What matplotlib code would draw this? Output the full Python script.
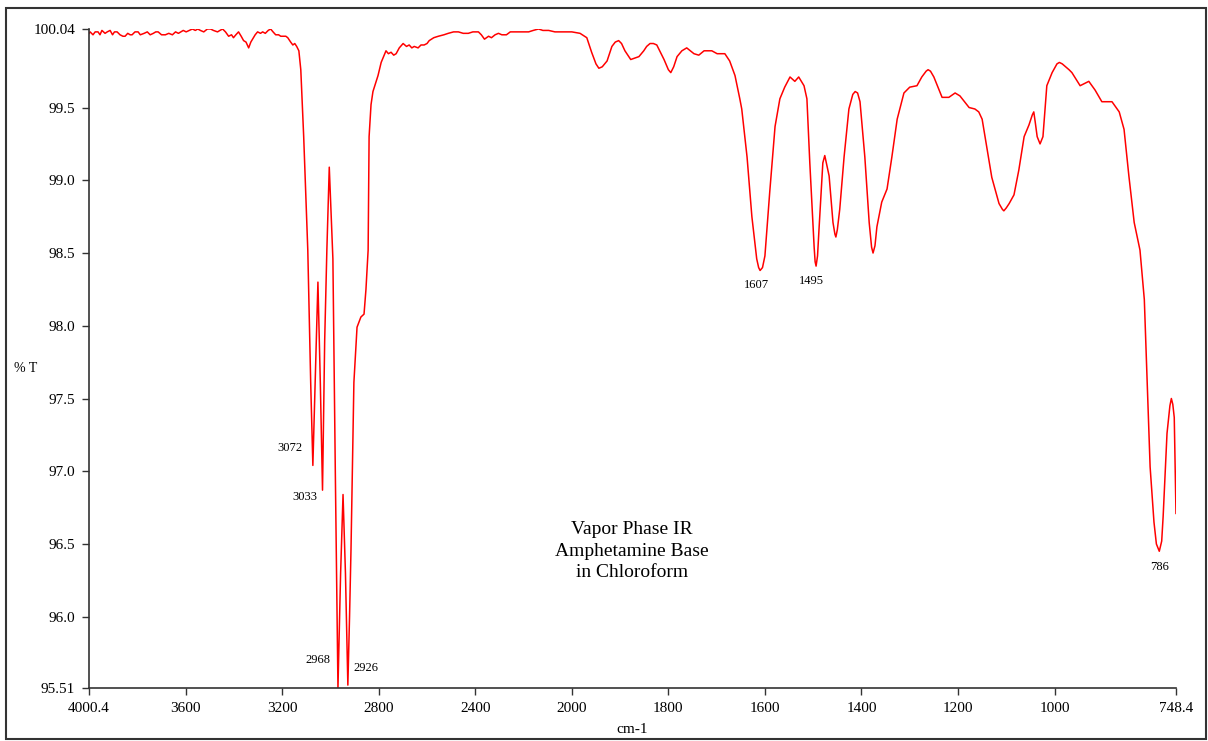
import numpy as np
import matplotlib
matplotlib.use("Agg")
import matplotlib.pyplot as plt
from matplotlib.patches import Rectangle

plt.rcParams['font.family'] = ['Liberation Serif', 'DejaVu Serif']

# spectrum: wavenumber (cm-1) and %T
wavenumber = [
    4000.4, 3996, 3984, 3975, 3963, 3955, 3947, 3934, 3925, 3913, 3903, 3895,
    3884, 3872, 3860, 3851, 3840, 3830, 3822, 3810, 3797, 3788, 3772, 3759,
    3747, 3734, 3724, 3714, 3700, 3684, 3670, 3655, 3642, 3630, 3620, 3610,
    3598, 3585, 3572, 3560, 3550, 3539, 3525, 3510, 3497, 3485, 3468, 3458,
    3447, 3435, 3422, 3410, 3402, 3392, 3381, 3370, 3360, 3350, 3339, 3330,
    3323, 3312, 3302, 3290, 3281, 3270, 3258, 3248, 3238, 3227, 3215, 3206,
    3198, 3185, 3177, 3165, 3156, 3148, 3140, 3131,
    3123, 3111, 3094, 3082, 3073, 3062, 3052, 3042, 3033, 3024, 3015, 3005,
    2990, 2980, 2969, 2958, 2948, 2938, 2928, 2921, 2915, 2903, 2890, 2874,
    2861, 2853, 2844, 2840, 2832, 2824, 2803, 2790, 2770, 2760, 2749, 2738, 2728,
    2715, 2699, 2685, 2674, 2663, 2653, 2637, 2625, 2612, 2600, 2591, 2572,
    2553, 2530, 2512, 2490, 2470, 2450, 2429, 2410, 2387, 2375, 2362, 2345,
    2333, 2318, 2304, 2290, 2271, 2255, 2237, 2210, 2179, 2160, 2138, 2120,
    2096, 2070, 2042, 2020, 2000,
    1983, 1969, 1959, 1950, 1944, 1937, 1927, 1917, 1910, 1903, 1897, 1890, 1878,
    1861, 1851, 1845, 1838, 1831, 1824, 1809, 1800, 1795, 1789, 1782, 1772, 1762,
    1747, 1737, 1726, 1710, 1699, 1683, 1673, 1662, 1652, 1648, 1637, 1627, 1617,
    1613, 1610, 1605, 1600, 1590, 1579, 1569, 1559, 1548, 1538, 1530, 1519, 1513,
    1507, 1498, 1496, 1494, 1491, 1488, 1480, 1476, 1467, 1459, 1455, 1453, 1450,
    1445, 1436, 1426, 1418, 1413, 1408, 1403, 1393, 1384, 1379, 1376, 1372, 1368,
    1358, 1347, 1337, 1326, 1312, 1300, 1285, 1275, 1266, 1262, 1257, 1250, 1233,
    1219, 1206, 1196, 1177, 1165, 1157, 1150, 1144, 1136, 1130, 1115, 1108, 1105,
    1100, 1094, 1084, 1074, 1063, 1053, 1046, 1043, 1040, 1036, 1030, 1024, 1016,
    1005, 995, 990, 984, 970, 964, 947, 929, 916, 902, 881, 866, 856, 846, 835,
    823, 814, 808, 802, 794, 789, 783, 778, 775, 767, 761, 758, 755, 752, 748.4,
]
transmittance = [
    100.01, 100.02, 100.00, 100.02, 100.02, 100.00, 100.03, 100.01, 100.02, 100.03, 100.00, 100.02,
    100.02, 100.00, 99.99, 99.99, 100.01, 100.00, 100.00, 100.02, 100.02, 100.00, 100.01, 100.02,
    100.00, 100.01, 100.02, 100.02, 100.00, 100.00, 100.01, 100.00, 100.02, 100.01, 100.02, 100.03,
    100.02, 100.03, 100.04, 100.03, 100.04, 100.03, 100.02, 100.04, 100.04, 100.03, 100.02, 100.03,
    100.04, 100.02, 99.99, 100.00, 99.98, 100.00, 100.02, 99.99, 99.96, 99.95, 99.91, 99.95,
    99.97, 100.00, 100.02, 100.01, 100.02, 100.01, 100.03, 100.04, 100.02, 100.00, 100.00, 99.99,
    99.99, 99.99, 99.98, 99.95, 99.93, 99.94, 99.92, 99.89,
    99.76, 99.30, 98.52, 97.61, 97.04, 97.70, 98.30, 97.60, 96.87, 97.90, 98.52, 99.09,
    98.46, 97.00, 95.51, 96.30, 96.84, 96.30, 95.53, 96.00, 96.46, 97.61, 97.99, 98.06,
    98.08, 98.25, 98.52, 99.30, 99.52, 99.61, 99.72, 99.81, 99.89, 99.87, 99.88, 99.86, 99.87,
    99.91, 99.94, 99.92, 99.93, 99.91, 99.92, 99.91, 99.93, 99.93, 99.94, 99.96, 99.98,
    99.99, 100.00, 100.01, 100.02, 100.02, 100.01, 100.01, 100.02, 100.02, 100.00, 99.97, 99.99,
    99.98, 100.00, 100.01, 100.00, 100.00, 100.02, 100.02, 100.02, 100.02, 100.03, 100.04, 100.03,
    100.03, 100.02, 100.02, 100.02, 100.02,
    100.01, 99.98, 99.88, 99.80, 99.77, 99.78, 99.82, 99.92, 99.95, 99.96, 99.94, 99.89, 99.83,
    99.85, 99.89, 99.92, 99.94, 99.94, 99.93, 99.83, 99.76, 99.74, 99.78, 99.85, 99.89, 99.91,
    99.87, 99.86, 99.89, 99.89, 99.87, 99.87, 99.82, 99.72, 99.56, 99.49, 99.16, 98.75, 98.46,
    98.40, 98.38, 98.40, 98.48, 98.92, 99.37, 99.56, 99.64, 99.71, 99.68, 99.71, 99.65, 99.56,
    99.12, 98.54, 98.44, 98.41, 98.48, 98.66, 99.12, 99.17, 99.03, 98.71, 98.63, 98.61, 98.66,
    98.80, 99.16, 99.49, 99.59, 99.61, 99.60, 99.54, 99.16, 98.71, 98.54, 98.50, 98.55, 98.68,
    98.85, 98.94, 99.16, 99.42, 99.60, 99.64, 99.65, 99.71, 99.75, 99.76, 99.75, 99.71, 99.57,
    99.57, 99.60, 99.58, 99.50, 99.49, 99.47, 99.42, 99.30, 99.14, 99.02, 98.84, 98.80, 98.79,
    98.81, 98.84, 98.90, 99.07, 99.30, 99.38, 99.45, 99.47, 99.40, 99.30, 99.25, 99.30, 99.65,
    99.74, 99.80, 99.81, 99.80, 99.76, 99.74, 99.65, 99.68, 99.62, 99.54, 99.54, 99.47, 99.35,
    99.03, 98.71, 98.52, 98.18, 97.61, 97.03, 96.65, 96.50, 96.45, 96.52, 96.69, 97.26, 97.45,
    97.50, 97.46, 97.37, 96.71,
]

peak_labels = ['3072', '3033', '2968', '2926', '1607', '1495', '786']
peak_label_xy = [(3167, 97.16), (3106, 96.82), (3052, 95.70), (2853, 95.65),
                 (1618, 98.28), (1503, 98.31), (783, 96.34)]

x_ticks = [4000.4, 3600, 3200, 2800, 2400, 2000, 1800, 1600, 1400, 1200, 1000, 748.4]
x_tick_labels = ['4000.4', '3600', '3200', '2800', '2400', '2000', '1800', '1600',
                 '1400', '1200', '1000', '748.4']
y_ticks = [95.51, 96.0, 96.5, 97.0, 97.5, 98.0, 98.5, 99.0, 99.5, 100.04]
y_tick_labels = ['95.51', '96.0', '96.5', '97.0', '97.5', '98.0', '98.5', '99.0',
                 '99.5', '100.04']


# the scale doubles below 2000 cm-1
def fwd(x):
    x = np.asarray(x, dtype=float)
    return np.where(x >= 2000, x, 2 * x - 2000)


def inv(y):
    y = np.asarray(y, dtype=float)
    return np.where(y >= 2000, y, (y + 2000) / 2)


fig = plt.figure(figsize=(12.08, 7.41), dpi=100)
ax = fig.add_axes([0.0737, 0.0715, 0.8998, 0.8894])

ax.plot(wavenumber, transmittance, color='#ff0000', lw=1.1)

ax.set_xscale('function', functions=(fwd, inv))
ax.set_xlim(4000.4, 748.4)
ax.set_ylim(95.51, 100.04)

ax.set_xticks(x_ticks)
ax.set_xticklabels(x_tick_labels)
ax.set_yticks(y_ticks)
ax.set_yticklabels(y_tick_labels)
ax.minorticks_off()
ax.tick_params(direction='out', length=5, width=1, color='#333333',
               labelsize=11, pad=5)

for s in ['top', 'right']:
    ax.spines[s].set_visible(False)
for s in ['left', 'bottom']:
    ax.spines[s].set_color('#333333')
    ax.spines[s].set_linewidth(1.2)

for lab, (px, py) in zip(peak_labels, peak_label_xy):
    ax.text(px, py, lab, fontsize=9, ha='center', va='center')

fig.text(0.523, 0.256, 'Vapor Phase IR\nAmphetamine Base\nin Chloroform',
         fontsize=14, ha='center', va='center', linespacing=1.35)
fig.text(0.012, 0.503, '% T', fontsize=10, ha='left', va='center')
fig.text(0.523, 0.015, 'cm-1', fontsize=11, ha='center', va='center')

fig.patches.append(Rectangle((0.005, 0.003), 0.993, 0.986, transform=fig.transFigure,
                             fill=False, lw=1.5, ec='#333333'))

fig.savefig('out.png', dpi=100)
